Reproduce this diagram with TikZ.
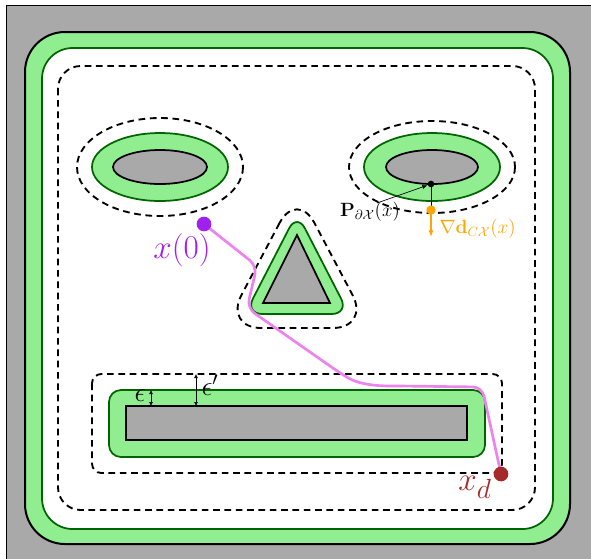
\documentclass[tikz,border=0pt]{standalone}
\usepackage{amsmath}
\usepackage{amssymb}
\usetikzlibrary{positioning, arrows.meta, calc}

\definecolor{obsgray}{HTML}{A9A9A9}
\definecolor{safegreen}{HTML}{90EE90}
\definecolor{edgegreen}{HTML}{006400}
\definecolor{trajpink}{HTML}{EE82EE}
\definecolor{startviolet}{HTML}{A020F0}
\definecolor{goalred}{HTML}{A52A2A}
\definecolor{gradorange}{HTML}{FFA500}

\begin{document}
\begin{tikzpicture}[x=0.75pt, y=-0.75pt,
                obst/.style={draw=black, line width=1.3pt, fill=obsgray},
                safe/.style={draw=edgegreen, line width=1.3pt, fill=safegreen},
                margin/.style={draw=black, line width=1.4pt, dash pattern=on 5pt off 3.5pt},
                traj/.style={draw=trajpink, line width=2pt, rounded corners=7pt},
                dot/.style={circle, inner sep=0pt, minimum size=#1},
                gap/.style={{Latex[length=3pt,width=3pt]}-{Latex[length=3pt,width=3pt]}, line width=0.5pt},
            ]

            % Workspace and its border:
            \useasboundingbox (0,0) rectangle (591,558);
            \draw[fill=obsgray, line width=0.6pt] (6,5) rectangle (595,562);
            \draw[fill=safegreen, line width=1.5pt, rounded corners=30pt] (25,32) rectangle (570,544);
            \draw[fill=white, draw=edgegreen, line width=1.3pt, rounded corners=23pt] (42,48) rectangle (553,529);
            \draw[margin, rounded corners=17pt] (58,66) rectangle (535,510);

            % Left ellipse obstacle:
            \draw[margin] (160,167) ellipse [x radius=83, y radius=49];
            \draw[safe] (160,167) ellipse [x radius=68, y radius=34];
            \draw[obst] (160,167) ellipse [x radius=47, y radius=17];

            % Right ellipse obstacle:
            \draw[margin] (432,167) ellipse [x radius=83, y radius=46];
            \draw[safe] (432,167) ellipse [x radius=68, y radius=34];
            \draw[obst] (432,167) ellipse [x radius=46, y radius=17];

            % Triangle obstacle:
            \draw[margin, rounded corners=28pt] (297,190) -- (224,328) -- (370,328) -- cycle;
            \draw[safe, rounded corners=13pt] (297,213) -- (245,314) -- (349,314) -- cycle;
            \draw[obst] (297,235) -- (263,303) -- (330,303) -- cycle;

            % Bar obstacle:
            \draw[margin, rounded corners=7pt] (92,374) rectangle (502,473);
            \draw[safe, rounded corners=9pt] (109,390) rectangle (485,457);
            \draw[obst] (126,406) rectangle (467,440);

            % Margins of the bar:
            \coordinate (epsTop) at (151,390);
            \coordinate (epsBot) at (151,406);
            \coordinate (epspTop) at (196,374);
            \coordinate (epspBot) at (196,406);
            \draw[gap] (epsTop) -- (epsBot);
            \draw[gap] (epspTop) -- (epspBot);
            \node[font=\huge] (eps)  at (140,396) {$\epsilon$};
            \node[font=\huge] (epsp) at (210,385) {$\epsilon'$};

            % Trajectory from start to goal:
            \coordinate (x0) at (204,224);
            \coordinate (xd) at (501,474);
            \draw[traj] (x0) -- (257,266) -- (247,308) -- (340,373)
                .. controls (360,385) and (380,386) .. (400,386) -- (482,387) -- (xd);
            \node[dot=11pt, fill=startviolet] (start) at (x0) {};
            \node[dot=11pt, fill=goalred] (goal) at (xd) {};
            \node[text=startviolet, font=\Huge] (lstart) at (182,250) {$x(0)$};
            \node[text=goalred, font=\Huge] (lgoal) at (475,487) {$x_d$};

            % Projection and gradient:
            \coordinate (proj) at (431,184);
            \coordinate (grad) at (431,210);
            \coordinate (gradTip) at (431,237);
            \draw[line width=0.5pt] (proj) -- (grad);
            \draw[gradorange, line width=1.2pt, -{Latex[length=5pt,width=4pt]}] (grad) -- (gradTip);
            \node[dot=5pt, fill=black] (pdot) at (proj) {};
            \node[dot=7pt, fill=gradorange] (gdot) at (grad) {};
            \node[font=\Large] (lproj) at (370,212) {$\mathbf{P}_{\partial\mathcal{X}}(x)$};
            \node[text=gradorange, font=\Large, anchor=west] (lgrad) at (435,229) {$\nabla\mathbf{d}_{C\mathcal{X}}(x)$};
            \coordinate (projTail) at (377,203);
            \draw[line width=0.5pt, -{Latex[length=4pt,width=3pt]}] (projTail) -- (pdot);
        \end{tikzpicture}
\end{document}
